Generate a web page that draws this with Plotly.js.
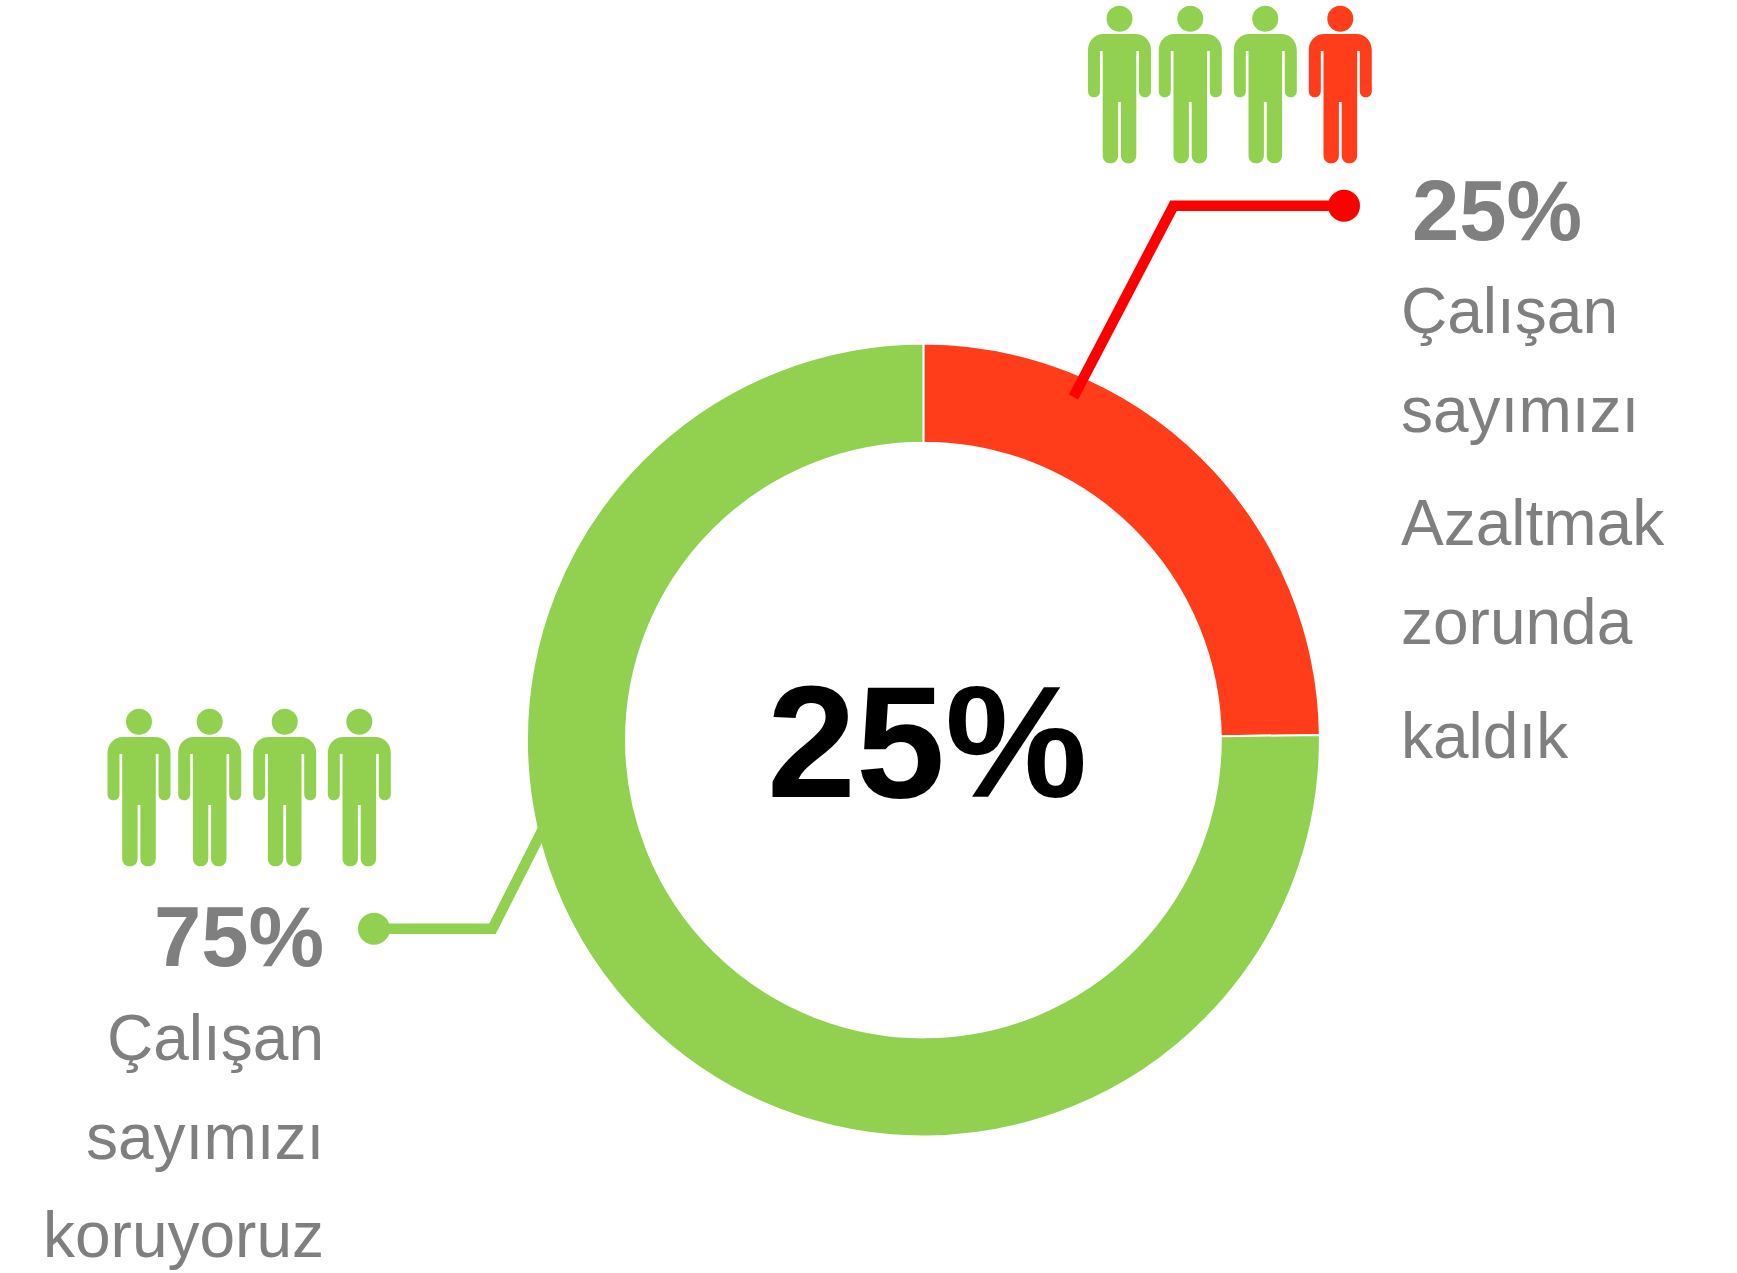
<!DOCTYPE html>
<html><head><meta charset="utf-8">
<script src="https://cdn.plot.ly/plotly-3.0.1.min.js"></script>
<style>html,body{margin:0;padding:0;background:#fff}#c{width:1737px;height:1273px}</style>
</head><body><div id="c"></div>
<script>
const categories = ["Azaltmak zorunda kaldık", "Koruyoruz"];
const values = [24.8, 75.2];
const centerLabel = "25%";
const redLabel = "25%";
const greenLabel = "75%";
const redLines = ["Çalışan", "sayımızı", "Azaltmak", "zorunda", "kaldık"];
const greenLines = ["Çalışan", "sayımızı", "koruyoruz"];

const W = 1737, H = 1273;
const GREEN = "#92D050", ORANGE = "#FF3D1A", RED = "#FF0000", GREY = "#7F7F7F";
const FONT = "Liberation Sans, Arial, sans-serif";
const X = x => x / W, Y = y => 1 - y / H;
const cx = 923.4, cy = 740, R = 396.5;

const shapes = [], annotations = [];
const P = (x, y) => X(x).toFixed(5) + "," + Y(y).toFixed(5);

function person(c, headY, color) {
  const r = 13;
  shapes.push({type: "circle", xref: "paper", yref: "paper", layer: "above",
    x0: X(c - r), x1: X(c + r), y0: Y(headY + r), y1: Y(headY - r),
    fillcolor: color, line: {width: 0}});
  const T = headY + 15.2;
  const segs = [
    ["L", 16, 0], ["C", 25, 0, 31.5, 7, 31.5, 16],
    ["L", 31.5, 57], ["C", 31.5, 65.5, 19.5, 65.5, 19.5, 57],
    ["L", 19.5, 17], ["L", 16.8, 17],
    ["L", 16.8, 121.5], ["C", 16.8, 132, 1.4, 132, 1.4, 121.5],
    ["L", 1.4, 68], ["L", -1.4, 68], ["L", -1.4, 121.5],
    ["C", -1.4, 132, -16.8, 132, -16.8, 121.5],
    ["L", -16.8, 17], ["L", -19.5, 17], ["L", -19.5, 57],
    ["C", -19.5, 65.5, -31.5, 65.5, -31.5, 57], ["L", -31.5, 16],
    ["C", -31.5, 7, -25, 0, -16, 0]
  ];
  let d = "M" + P(c - 16, T);
  segs.forEach(s => {
    if (s[0] === "L") d += "L" + P(c + s[1], T + s[2]);
    else d += "C" + P(c + s[1], T + s[2]) + " " + P(c + s[3], T + s[4]) + " " + P(c + s[5], T + s[6]);
  });
  shapes.push({type: "path", xref: "paper", yref: "paper", layer: "above",
    path: d + "Z", fillcolor: color, line: {width: 0}});
}
[1119.5, 1190.3, 1265.3].forEach(c => person(c, 18.7, GREEN));
person(1340.3, 18.7, ORANGE);
[139, 209.7, 284.7, 359.3].forEach(c => person(c, 721.7, GREEN));

function connector(points, dot, color) {
  shapes.push({type: "path", xref: "paper", yref: "paper", layer: "above",
    path: points.map((p, i) => (i ? "L" : "M") + P(p[0], p[1])).join(""),
    line: {color: color, width: 10.5}, fillcolor: "rgba(0,0,0,0)"});
  shapes.push({type: "circle", xref: "paper", yref: "paper", layer: "above",
    x0: X(dot[0] - 16), x1: X(dot[0] + 16), y0: Y(dot[1] + 16), y1: Y(dot[1] - 16),
    fillcolor: color, line: {width: 0}});
}
connector([[1344, 205.7], [1173.5, 205.7], [1073.5, 397]], [1344, 205.7], RED);
connector([[374, 928.7], [492.5, 928.7], [546, 823]], [374, 928.7], GREEN);

function txt(s, x, y, size, color, bold, anchor) {
  annotations.push({xref: "paper", yref: "paper", x: X(x), y: Y(y), text: bold ? "<b>" + s + "</b>" : s,
    showarrow: false, xanchor: anchor, yanchor: "middle",
    font: {family: FONT, size: size, color: color}});
}
txt(centerLabel, 926.5, 741, 160, "#000000", true, "center");
txt(redLabel, 1409.5, 210, 85, GREY, true, "left");
txt(greenLabel, 326, 936, 85, GREY, true, "right");
const redY = [311, 410, 523, 622, 736];
redLines.forEach((s, i) => txt(s, 1399, redY[i], 64, GREY, false, "left"));
const greenY = [1037.5, 1137, 1234.5];
greenLines.forEach((s, i) => txt(s, 326, greenY[i], 64, GREY, false, "right"));

Plotly.newPlot("c", [{
  type: "pie", labels: categories, values: values, sort: false, direction: "clockwise", rotation: 0,
  hole: 0.75, textinfo: "none", hoverinfo: "label+percent",
  marker: {colors: [ORANGE, GREEN], line: {color: "#ffffff", width: 2}},
  domain: {x: [X(cx - R), X(cx + R)], y: [Y(cy + R), Y(cy - R)]}
}], {
  width: W, height: H, margin: {l: 0, r: 0, t: 0, b: 0}, showlegend: false,
  paper_bgcolor: "#ffffff", plot_bgcolor: "#ffffff", shapes: shapes, annotations: annotations
}, {displayModeBar: false, staticPlot: true});
</script></body></html>
